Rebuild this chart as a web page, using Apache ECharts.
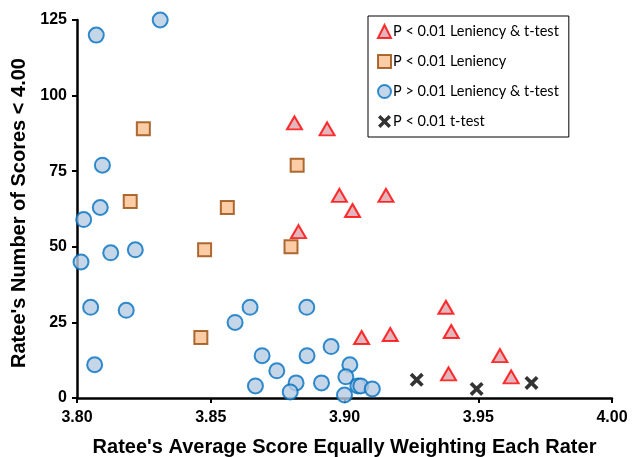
<!DOCTYPE html>
<html>
<head>
<meta charset="utf-8">
<script src="https://cdn.jsdelivr.net/npm/echarts@6/dist/echarts.min.js"></script>
<style>
  html, body { margin: 0; padding: 0; background: #fff; overflow: hidden; }
  #chart { width: 632px; height: 457px; }
</style>
</head>
<body>
<div id="chart"></div>
<script>
// Ratee averages (x) and number of scores below 4.00 (y), per significance group
const seriesNames = [
  'P < 0.01 Leniency & t-test',
  'P < 0.01 Leniency',
  'P > 0.01 Leniency & t-test',
  'P < 0.01 t-test'
];

const bothSig = [
  [3.8813, 91], [3.8935, 89], [3.8981, 67], [3.9155, 67], [3.9030, 62],
  [3.8828, 55], [3.9064, 20], [3.9171, 21], [3.9379, 30], [3.9399, 22],
  [3.9389, 8], [3.9581, 14], [3.9623, 7]
];

const leniencySig = [
  [3.8248, 89], [3.8199, 65], [3.8562, 63], [3.8477, 49], [3.8463, 20],
  [3.8823, 77], [3.8800, 50]
];

const notSig = [
  [3.8311, 125], [3.8072, 120], [3.8095, 77], [3.8087, 63], [3.8025, 59],
  [3.8126, 48], [3.8218, 49], [3.8015, 45], [3.8051, 30], [3.8184, 29],
  [3.8066, 11], [3.8591, 25], [3.8647, 30], [3.8859, 30], [3.8692, 14],
  [3.8860, 14], [3.8950, 17], [3.8747, 9], [3.8667, 4], [3.8819, 5],
  [3.8797, 2], [3.8914, 5], [3.9020, 11], [3.9005, 7], [3.9000, 1],
  [3.9050, 4], [3.9061, 4], [3.9104, 3]
];

const tTestSig = [
  [3.9270, 6], [3.9494, 3], [3.9699, 5]
];

const xTicks = { min: 3.80, max: 4.00, step: 0.05 };
const yTicks = { min: 0, max: 125, step: 25 };

// bold "x" marker
const crossPath = 'path://M0,2.2 L2.2,0 L6,3.8 L9.8,0 L12,2.2 L8.2,6 L12,9.8 L9.8,12 L6,8.2 L2.2,12 L0,9.8 L3.8,6 Z';

const labelFont = '"Liberation Sans", Arial, sans-serif';
const legendFont = 'Lato, "Open Sans", sans-serif';

const chart = echarts.init(document.getElementById('chart'), null, { renderer: 'canvas' });

chart.setOption({
  animation: false,
  backgroundColor: '#ffffff',
  grid: { left: 77, right: 20, top: 20, bottom: 59, outerBoundsMode: 'none' },
  xAxis: {
    type: 'value',
    min: xTicks.min,
    max: xTicks.max,
    interval: xTicks.step,
    name: "Ratee's Average Score Equally Weighting Each Rater",
    nameLocation: 'middle',
    nameGap: 39,
    nameTextStyle: { fontFamily: labelFont, fontWeight: 'bold', fontSize: 20, color: '#000' },
    axisLine: { show: true, onZero: false, lineStyle: { color: '#000', width: 2.5 } },
    axisTick: { show: true, inside: false, length: 5, lineStyle: { color: '#000', width: 2 } },
    axisLabel: {
      fontFamily: labelFont, fontWeight: 'bold', fontSize: 16, color: '#000', margin: 12,
      formatter: v => v.toFixed(2)
    },
    splitLine: { show: false }
  },
  yAxis: {
    type: 'value',
    min: yTicks.min,
    max: yTicks.max,
    interval: yTicks.step,
    name: "Ratee's Number of Scores < 4.00",
    nameLocation: 'middle',
    nameGap: 46,
    nameTextStyle: {
      fontFamily: labelFont, fontWeight: 'bold', fontSize: 20, color: '#000',
      padding: [0, 8, 0, 0]
    },
    axisLine: { show: true, onZero: false, lineStyle: { color: '#000', width: 2.5 } },
    axisTick: { show: true, inside: false, length: 5, lineStyle: { color: '#000', width: 2 } },
    axisLabel: { fontFamily: labelFont, fontWeight: 'bold', fontSize: 16, color: '#000', margin: 10 },
    splitLine: { show: false }
  },
  legend: {
    orient: 'vertical',
    left: 368,
    top: 16,
    padding: [8, 10, 8, 9],
    itemGap: 15,
    itemWidth: 13,
    itemHeight: 13,
    borderColor: '#000',
    borderWidth: 1,
    backgroundColor: '#fff',
    textStyle: { fontFamily: legendFont, fontSize: 14.5, color: '#000', padding: [0, 0, 0, -3] },
    data: seriesNames
  },
  series: [
    {
      name: seriesNames[0],
      type: 'scatter',
      data: bothSig,
      symbol: 'triangle',
      symbolSize: [15, 13],
      z: 4,
      itemStyle: { color: '#dca4ad', borderColor: '#ff0000', borderWidth: 2 }
    },
    {
      name: seriesNames[1],
      type: 'scatter',
      data: leniencySig,
      symbol: 'rect',
      symbolSize: 13,
      z: 3,
      itemStyle: { color: '#fac090', borderColor: '#984807', borderWidth: 2 }
    },
    {
      name: seriesNames[2],
      type: 'scatter',
      data: notSig,
      symbol: 'circle',
      symbolSize: 15,
      z: 2,
      itemStyle: { color: '#b8cce4', borderColor: '#0070c0', borderWidth: 2 }
    },
    {
      name: seriesNames[3],
      type: 'scatter',
      data: tTestSig,
      symbol: crossPath,
      symbolSize: 14,
      z: 5,
      itemStyle: { color: '#000', borderWidth: 0 }
    }
  ]
});
</script>
</body>
</html>
